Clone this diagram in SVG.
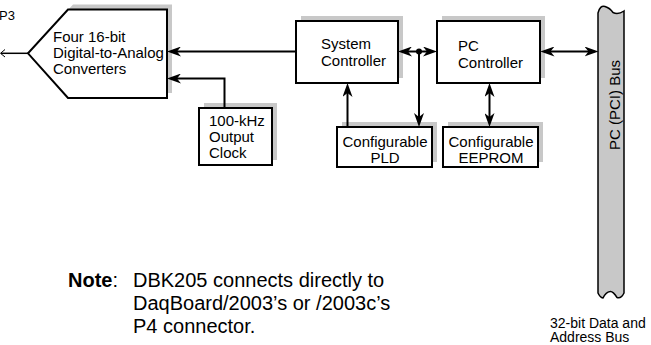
<svg xmlns="http://www.w3.org/2000/svg" width="651" height="345" viewBox="0 0 651 345">
<style>
  .box { fill: #ffffff; stroke: #000000; stroke-width: 2; }
  .shadow { fill: #c8c8c8; stroke: none; }
  .lbl { font-family: "Liberation Sans", Arial, sans-serif; font-size: 15px; fill: #000000; }
  .mid { text-anchor: middle; }
  .wire { fill: none; stroke: #000000; stroke-width: 2; }
  .note { font-family: "Liberation Sans", Arial, sans-serif; font-size: 20px; fill: #000000; }
  .cap { font-family: "Liberation Sans", Arial, sans-serif; font-size: 14px; fill: #000000; }
</style>
<defs>
  <marker id="arr" markerUnits="userSpaceOnUse" viewBox="0 0 14 10" refX="10" refY="5" markerWidth="14" markerHeight="10" orient="auto-start-reverse">
    <path d="M0,0 L14,5 L0,10 L4,5 Z" fill="#000000"/>
  </marker>
</defs>

<g id="dac">
  <polygon class="shadow" points="73,4.5 172,4.5 172,93 73,93 33,48.3"/>
  <polygon class="box" points="68,9.5 167,9.5 167,98 68,98 28,53.3"/>
  <text class="lbl" x="53" y="42">Four 16-bit</text>
  <text class="lbl" x="53" y="58">Digital-to-Analog</text>
  <text class="lbl" x="53" y="74">Converters</text>
</g>

<g id="p3">
  <text class="lbl" x="-1" y="20" style="font-size:13px">P3</text>
</g>

<g id="system-controller">
  <rect class="shadow" x="301" y="16" width="102" height="62"/>
  <rect class="box" x="296" y="21" width="102" height="62"/>
  <text class="lbl" x="321" y="49">System</text>
  <text class="lbl" x="321" y="66">Controller</text>
</g>

<g id="pc-controller">
  <rect class="shadow" x="442" y="16" width="103" height="62"/>
  <rect class="box" x="437" y="21" width="103" height="62"/>
  <text class="lbl" x="458" y="51">PC</text>
  <text class="lbl" x="458" y="68">Controller</text>
</g>

<g id="clock">
  <rect class="shadow" x="204" y="103" width="73" height="57"/>
  <rect class="box" x="199" y="108" width="73" height="57"/>
  <text class="lbl" x="209" y="126">100-kHz</text>
  <text class="lbl" x="209" y="142">Output</text>
  <text class="lbl" x="209" y="158">Clock</text>
</g>

<g id="pld">
  <rect class="shadow" x="342" y="122" width="95" height="40"/>
  <rect class="box" x="337" y="127" width="95" height="40"/>
  <text class="lbl mid" x="385" y="146.5">Configurable</text>
  <text class="lbl mid" x="385" y="163">PLD</text>
</g>

<g id="eeprom">
  <rect class="shadow" x="448" y="122" width="95" height="40"/>
  <rect class="box" x="443" y="127" width="95" height="40"/>
  <text class="lbl mid" x="491" y="146.5">Configurable</text>
  <text class="lbl mid" x="491" y="163">EEPROM</text>
</g>

<g id="pci-bus">
  <path d="M598,13 Q600,5 605,6.5 Q610,8 613,12.5 Q618,15 624,11 L624,293 Q621,299 617,297.5 Q613,291 610,291.5 Q606,292 603,298 Q600,297.5 598,293 Z" fill="#c8c8c8" stroke="#000000" stroke-width="1.5"/>
  <text class="lbl mid" transform="translate(619.5,105) rotate(-90)">PC (PCI) Bus</text>
</g>

<g id="connectors">
  <line class="wire" x1="28" y1="53.3" x2="1" y2="53.3" style="stroke-width:1.5"/>
  <polyline points="5,49.5 0.5,53.3 5,57" fill="none" stroke="#000000" stroke-width="1"/>
  <line class="wire" x1="296" y1="51.5" x2="171" y2="51.5" marker-end="url(#arr)"/>
  <polyline class="wire" points="224.5,108 224.5,78.5 171,78.5" marker-end="url(#arr)"/>
  <line class="wire" x1="347.5" y1="127" x2="347.5" y2="87" marker-end="url(#arr)"/>
  <line class="wire" x1="402" y1="51.5" x2="433" y2="51.5" marker-start="url(#arr)" marker-end="url(#arr)"/>
  <line class="wire" x1="419" y1="51.5" x2="419" y2="123" marker-end="url(#arr)"/>
  <circle cx="419" cy="51.5" r="3" fill="#000000"/>
  <line class="wire" x1="489.5" y1="87" x2="489.5" y2="123" marker-start="url(#arr)" marker-end="url(#arr)"/>
  <line class="wire" x1="544.5" y1="51.5" x2="594.5" y2="51.5" marker-start="url(#arr)" marker-end="url(#arr)"/>
</g>

<g id="note">
  <text class="note" x="68" y="287"><tspan font-weight="bold">Note</tspan>:</text>
  <text class="note" x="133" y="287">DBK205 connects directly to</text>
  <text class="note" x="133" y="310">DaqBoard/2003’s or /2003c’s</text>
  <text class="note" x="133" y="333">P4 connector.</text>
</g>

<g id="bus-caption">
  <text class="cap" x="550" y="328">32-bit Data and</text>
  <text class="cap" x="550" y="342">Address Bus</text>
</g>
</svg>
